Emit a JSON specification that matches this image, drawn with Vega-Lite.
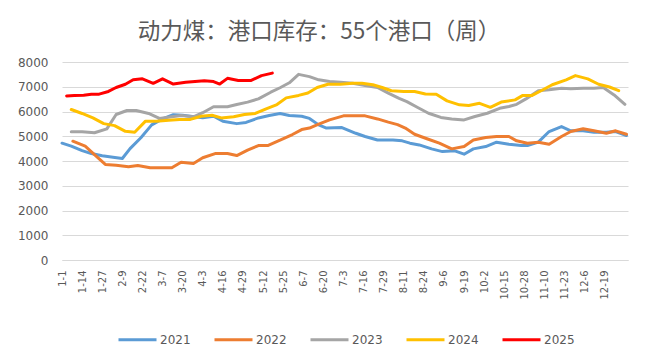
{
  "$schema": "https://vega.github.io/schema/vega-lite/v6.json",
  "width": 566,
  "height": 198,
  "autosize": "none",
  "padding": {"left": 62, "top": 62, "right": 21, "bottom": 92},
  "background": "white",
  "title": {
    "text": "动力煤：港口库存：55个港口（周）",
    "font": "Noto Sans CJK SC",
    "fontSize": 22.5,
    "fontWeight": "normal",
    "color": "#595959",
    "anchor": "middle",
    "dx": -26,
    "offset": 13
  },
  "config": {
    "view": {"stroke": null},
    "axis": {"labelColor": "#595959", "labelFont": "DejaVu Sans"}
  },
  "data": {
    "values": [
      {"year": "2021", "day": 0, "value": 4720},
      {"year": "2021", "day": 6, "value": 4600},
      {"year": "2021", "day": 13, "value": 4420},
      {"year": "2021", "day": 19, "value": 4300},
      {"year": "2021", "day": 26, "value": 4210},
      {"year": "2021", "day": 33, "value": 4150},
      {"year": "2021", "day": 39, "value": 4100},
      {"year": "2021", "day": 44, "value": 4500},
      {"year": "2021", "day": 51, "value": 4940},
      {"year": "2021", "day": 58, "value": 5460},
      {"year": "2021", "day": 65, "value": 5700},
      {"year": "2021", "day": 72, "value": 5870},
      {"year": "2021", "day": 78, "value": 5850},
      {"year": "2021", "day": 83, "value": 5810},
      {"year": "2021", "day": 91, "value": 5750},
      {"year": "2021", "day": 98, "value": 5810},
      {"year": "2021", "day": 104, "value": 5610},
      {"year": "2021", "day": 113, "value": 5510},
      {"year": "2021", "day": 119, "value": 5560},
      {"year": "2021", "day": 127, "value": 5740},
      {"year": "2021", "day": 134, "value": 5840},
      {"year": "2021", "day": 141, "value": 5920},
      {"year": "2021", "day": 147, "value": 5840},
      {"year": "2021", "day": 155, "value": 5810},
      {"year": "2021", "day": 160, "value": 5720},
      {"year": "2021", "day": 166, "value": 5460},
      {"year": "2021", "day": 171, "value": 5330},
      {"year": "2021", "day": 176, "value": 5340},
      {"year": "2021", "day": 181, "value": 5350},
      {"year": "2021", "day": 190, "value": 5120},
      {"year": "2021", "day": 196, "value": 4990},
      {"year": "2021", "day": 204, "value": 4850},
      {"year": "2021", "day": 209, "value": 4850},
      {"year": "2021", "day": 214, "value": 4850},
      {"year": "2021", "day": 220, "value": 4815},
      {"year": "2021", "day": 225, "value": 4720},
      {"year": "2021", "day": 231, "value": 4650},
      {"year": "2021", "day": 239, "value": 4490},
      {"year": "2021", "day": 246, "value": 4380},
      {"year": "2021", "day": 254, "value": 4410},
      {"year": "2021", "day": 260, "value": 4275},
      {"year": "2021", "day": 266, "value": 4490},
      {"year": "2021", "day": 274, "value": 4585},
      {"year": "2021", "day": 281, "value": 4760},
      {"year": "2021", "day": 289, "value": 4680},
      {"year": "2021", "day": 297, "value": 4625},
      {"year": "2021", "day": 301, "value": 4625},
      {"year": "2021", "day": 308, "value": 4760},
      {"year": "2021", "day": 315, "value": 5190},
      {"year": "2021", "day": 323, "value": 5390},
      {"year": "2021", "day": 329, "value": 5220},
      {"year": "2021", "day": 337, "value": 5220},
      {"year": "2021", "day": 344, "value": 5160},
      {"year": "2021", "day": 352, "value": 5160},
      {"year": "2021", "day": 358, "value": 5190},
      {"year": "2021", "day": 365, "value": 5030},

      {"year": "2022", "day": 7, "value": 4800},
      {"year": "2022", "day": 15, "value": 4600},
      {"year": "2022", "day": 21, "value": 4260},
      {"year": "2022", "day": 28, "value": 3860},
      {"year": "2022", "day": 35, "value": 3830},
      {"year": "2022", "day": 43, "value": 3770},
      {"year": "2022", "day": 49, "value": 3820},
      {"year": "2022", "day": 57, "value": 3725},
      {"year": "2022", "day": 64, "value": 3725},
      {"year": "2022", "day": 71, "value": 3725},
      {"year": "2022", "day": 77, "value": 3950},
      {"year": "2022", "day": 85, "value": 3900},
      {"year": "2022", "day": 91, "value": 4130},
      {"year": "2022", "day": 99, "value": 4300},
      {"year": "2022", "day": 107, "value": 4300},
      {"year": "2022", "day": 113, "value": 4220},
      {"year": "2022", "day": 120, "value": 4440},
      {"year": "2022", "day": 127, "value": 4625},
      {"year": "2022", "day": 133, "value": 4625},
      {"year": "2022", "day": 141, "value": 4840},
      {"year": "2022", "day": 149, "value": 5070},
      {"year": "2022", "day": 155, "value": 5270},
      {"year": "2022", "day": 160, "value": 5330},
      {"year": "2022", "day": 166, "value": 5490},
      {"year": "2022", "day": 173, "value": 5660},
      {"year": "2022", "day": 182, "value": 5825},
      {"year": "2022", "day": 190, "value": 5825},
      {"year": "2022", "day": 196, "value": 5825},
      {"year": "2022", "day": 204, "value": 5700},
      {"year": "2022", "day": 211, "value": 5570},
      {"year": "2022", "day": 217, "value": 5470},
      {"year": "2022", "day": 222, "value": 5330},
      {"year": "2022", "day": 228, "value": 5080},
      {"year": "2022", "day": 236, "value": 4900},
      {"year": "2022", "day": 244, "value": 4720},
      {"year": "2022", "day": 252, "value": 4490},
      {"year": "2022", "day": 260, "value": 4585},
      {"year": "2022", "day": 266, "value": 4850},
      {"year": "2022", "day": 274, "value": 4950},
      {"year": "2022", "day": 281, "value": 4990},
      {"year": "2022", "day": 289, "value": 4990},
      {"year": "2022", "day": 294, "value": 4815},
      {"year": "2022", "day": 301, "value": 4720},
      {"year": "2022", "day": 308, "value": 4760},
      {"year": "2022", "day": 315, "value": 4680},
      {"year": "2022", "day": 323, "value": 4990},
      {"year": "2022", "day": 329, "value": 5190},
      {"year": "2022", "day": 337, "value": 5300},
      {"year": "2022", "day": 344, "value": 5220},
      {"year": "2022", "day": 352, "value": 5120},
      {"year": "2022", "day": 358, "value": 5220},
      {"year": "2022", "day": 365, "value": 5080},

      {"year": "2023", "day": 6, "value": 5180},
      {"year": "2023", "day": 13, "value": 5180},
      {"year": "2023", "day": 21, "value": 5140},
      {"year": "2023", "day": 29, "value": 5300},
      {"year": "2023", "day": 35, "value": 5880},
      {"year": "2023", "day": 42, "value": 6040},
      {"year": "2023", "day": 48, "value": 6040},
      {"year": "2023", "day": 56, "value": 5920},
      {"year": "2023", "day": 63, "value": 5720},
      {"year": "2023", "day": 71, "value": 5785},
      {"year": "2023", "day": 77, "value": 5840},
      {"year": "2023", "day": 85, "value": 5785},
      {"year": "2023", "day": 91, "value": 5950},
      {"year": "2023", "day": 98, "value": 6190},
      {"year": "2023", "day": 107, "value": 6190},
      {"year": "2023", "day": 113, "value": 6280},
      {"year": "2023", "day": 120, "value": 6380},
      {"year": "2023", "day": 127, "value": 6510},
      {"year": "2023", "day": 135, "value": 6780},
      {"year": "2023", "day": 141, "value": 6960},
      {"year": "2023", "day": 147, "value": 7160},
      {"year": "2023", "day": 153, "value": 7500},
      {"year": "2023", "day": 160, "value": 7410},
      {"year": "2023", "day": 166, "value": 7280},
      {"year": "2023", "day": 173, "value": 7210},
      {"year": "2023", "day": 180, "value": 7180},
      {"year": "2023", "day": 188, "value": 7140},
      {"year": "2023", "day": 196, "value": 7050},
      {"year": "2023", "day": 204, "value": 6970},
      {"year": "2023", "day": 211, "value": 6740},
      {"year": "2023", "day": 218, "value": 6530},
      {"year": "2023", "day": 223, "value": 6400},
      {"year": "2023", "day": 230, "value": 6160},
      {"year": "2023", "day": 237, "value": 5930},
      {"year": "2023", "day": 245, "value": 5760},
      {"year": "2023", "day": 252, "value": 5700},
      {"year": "2023", "day": 260, "value": 5660},
      {"year": "2023", "day": 267, "value": 5800},
      {"year": "2023", "day": 275, "value": 5930},
      {"year": "2023", "day": 283, "value": 6130},
      {"year": "2023", "day": 289, "value": 6200},
      {"year": "2023", "day": 294, "value": 6290},
      {"year": "2023", "day": 300, "value": 6510},
      {"year": "2023", "day": 308, "value": 6840},
      {"year": "2023", "day": 315, "value": 6880},
      {"year": "2023", "day": 323, "value": 6940},
      {"year": "2023", "day": 329, "value": 6920},
      {"year": "2023", "day": 337, "value": 6940},
      {"year": "2023", "day": 344, "value": 6940},
      {"year": "2023", "day": 350, "value": 6970},
      {"year": "2023", "day": 357, "value": 6670},
      {"year": "2023", "day": 364, "value": 6290},

      {"year": "2024", "day": 6, "value": 6080},
      {"year": "2024", "day": 13, "value": 5920},
      {"year": "2024", "day": 20, "value": 5740},
      {"year": "2024", "day": 27, "value": 5510},
      {"year": "2024", "day": 34, "value": 5430},
      {"year": "2024", "day": 41, "value": 5200},
      {"year": "2024", "day": 47, "value": 5160},
      {"year": "2024", "day": 54, "value": 5610},
      {"year": "2024", "day": 61, "value": 5610},
      {"year": "2024", "day": 69, "value": 5650},
      {"year": "2024", "day": 76, "value": 5680},
      {"year": "2024", "day": 83, "value": 5680},
      {"year": "2024", "day": 90, "value": 5810},
      {"year": "2024", "day": 97, "value": 5850},
      {"year": "2024", "day": 103, "value": 5740},
      {"year": "2024", "day": 111, "value": 5785},
      {"year": "2024", "day": 118, "value": 5880},
      {"year": "2024", "day": 125, "value": 5920},
      {"year": "2024", "day": 132, "value": 6110},
      {"year": "2024", "day": 139, "value": 6280},
      {"year": "2024", "day": 145, "value": 6550},
      {"year": "2024", "day": 153, "value": 6650},
      {"year": "2024", "day": 159, "value": 6750},
      {"year": "2024", "day": 165, "value": 6970},
      {"year": "2024", "day": 172, "value": 7100},
      {"year": "2024", "day": 180, "value": 7100},
      {"year": "2024", "day": 188, "value": 7140},
      {"year": "2024", "day": 194, "value": 7140},
      {"year": "2024", "day": 201, "value": 7080},
      {"year": "2024", "day": 207, "value": 6970},
      {"year": "2024", "day": 213, "value": 6840},
      {"year": "2024", "day": 221, "value": 6810},
      {"year": "2024", "day": 228, "value": 6810},
      {"year": "2024", "day": 235, "value": 6710},
      {"year": "2024", "day": 242, "value": 6700},
      {"year": "2024", "day": 249, "value": 6430},
      {"year": "2024", "day": 257, "value": 6270},
      {"year": "2024", "day": 263, "value": 6240},
      {"year": "2024", "day": 270, "value": 6330},
      {"year": "2024", "day": 277, "value": 6170},
      {"year": "2024", "day": 284, "value": 6380},
      {"year": "2024", "day": 293, "value": 6470},
      {"year": "2024", "day": 298, "value": 6650},
      {"year": "2024", "day": 304, "value": 6650},
      {"year": "2024", "day": 311, "value": 6880},
      {"year": "2024", "day": 317, "value": 7080},
      {"year": "2024", "day": 326, "value": 7280},
      {"year": "2024", "day": 332, "value": 7450},
      {"year": "2024", "day": 340, "value": 7320},
      {"year": "2024", "day": 347, "value": 7100},
      {"year": "2024", "day": 354, "value": 6990},
      {"year": "2024", "day": 360, "value": 6840},

      {"year": "2025", "day": 3, "value": 6630},
      {"year": "2025", "day": 8, "value": 6650},
      {"year": "2025", "day": 14, "value": 6660},
      {"year": "2025", "day": 19, "value": 6700},
      {"year": "2025", "day": 24, "value": 6700},
      {"year": "2025", "day": 30, "value": 6810},
      {"year": "2025", "day": 35, "value": 6970},
      {"year": "2025", "day": 41, "value": 7100},
      {"year": "2025", "day": 46, "value": 7280},
      {"year": "2025", "day": 52, "value": 7320},
      {"year": "2025", "day": 59, "value": 7140},
      {"year": "2025", "day": 65, "value": 7320},
      {"year": "2025", "day": 72, "value": 7110},
      {"year": "2025", "day": 80, "value": 7180},
      {"year": "2025", "day": 86, "value": 7210},
      {"year": "2025", "day": 92, "value": 7240},
      {"year": "2025", "day": 98, "value": 7210},
      {"year": "2025", "day": 102, "value": 7110},
      {"year": "2025", "day": 107, "value": 7340},
      {"year": "2025", "day": 114, "value": 7250},
      {"year": "2025", "day": 122, "value": 7250},
      {"year": "2025", "day": 129, "value": 7450},
      {"year": "2025", "day": 136, "value": 7550}
    ]
  },
  "mark": {"type": "line", "strokeWidth": 3, "strokeJoin": "round", "strokeCap": "round"},
  "encoding": {
    "x": {
      "field": "day",
      "type": "quantitative",
      "scale": {"domain": [0, 366], "nice": false, "zero": false},
      "axis": {
        "title": null,
        "values": [0, 13, 26, 39, 52, 65, 78, 91, 104, 117, 130, 143, 156, 169, 182, 195, 208, 221, 234, 247, 260, 273, 286, 299, 312, 325, 338, 351],
        "labelExpr": "['1-1','1-14','1-27','2-9','2-22','3-7','3-20','4-3','4-16','4-29','5-12','5-25','6-7','6-20','7-3','7-16','7-29','8-11','8-24','9-6','9-19','10-2','10-15','10-28','11-10','11-23','12-6','12-19'][round(datum.value/13)]",
        "labelAngle": -90,
        "labelAlign": "right",
        "labelBaseline": "middle",
        "labelFontSize": 10,
        "labelPadding": 10,
        "labelOverlap": false,
        "labelFlush": false,
        "grid": false,
        "ticks": false,
        "domain": true,
        "domainColor": "#D9D9D9",
        "domainWidth": 1
      }
    },
    "y": {
      "field": "value",
      "type": "quantitative",
      "scale": {"domain": [0, 8000], "nice": false},
      "axis": {
        "title": null,
        "format": "d",
        "values": [0, 1000, 2000, 3000, 4000, 5000, 6000, 7000, 8000],
        "labelFontSize": 12,
        "labelPadding": 14,
        "grid": true,
        "gridColor": "#D9D9D9",
        "gridWidth": 1,
        "domain": false,
        "ticks": false
      }
    },
    "color": {
      "field": "year",
      "type": "nominal",
      "scale": {
        "domain": ["2021", "2022", "2023", "2024", "2025"],
        "range": ["#5B9BD5", "#ED7D31", "#A5A5A5", "#FFC000", "#FF0000"]
      },
      "legend": {
        "title": null,
        "orient": "none",
        "legendX": 55,
        "legendY": 257,
        "direction": "horizontal",
        "symbolType": "stroke",
        "symbolSize": 1444,
        "symbolStrokeWidth": 3,
        "labelFont": "DejaVu Sans",
        "labelFontSize": 12,
        "labelColor": "#595959",
        "labelOffset": 2,
        "columnPadding": 17
      }
    }
  }
}
